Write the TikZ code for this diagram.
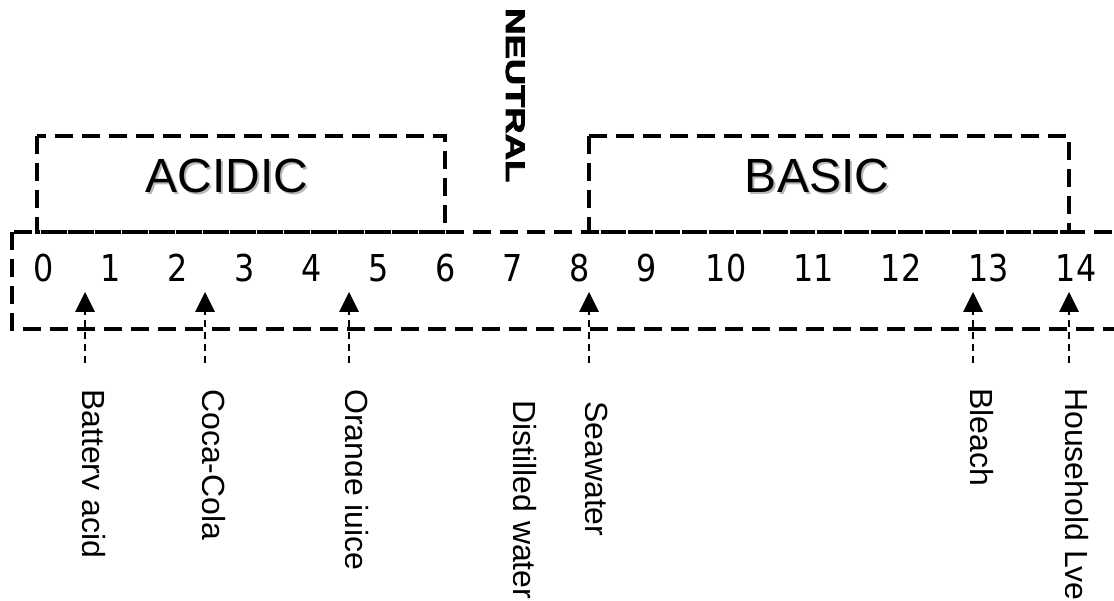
\documentclass[tikz,border=0pt]{standalone}
\usepackage{graphicx}
\usepackage{fontspec}
\setmainfont{Liberation Sans}
\newfontfamily\digitfont{DejaVu Sans}[FakeStretch=0.86]
\newfontfamily\heavyfont{Liberation Sans Bold}[FakeBold=2.5]
\usetikzlibrary{arrows.meta}

\begin{document}
\begin{tikzpicture}[
  x=1pt, y=-1pt,
  zone/.style={draw, line width=3.5pt, dash pattern=on 18pt off 9pt},
  zonename/.style={font=\fontsize{48}{52}\selectfont, inner sep=0pt, anchor=base},
  zoneshade/.style={zonename, text=black!28},
  phnum/.style={font=\digitfont\fontsize{37}{40}\selectfont, inner sep=0pt, anchor=base},
  item/.style={font=\fontsize{32}{36}\selectfont, rotate=-90, inner sep=0pt, anchor=base west},
  pointer/.style={line width=1.8pt, dash pattern=on 7pt off 5pt,
    -{Triangle[width=20pt,length=20pt,line width=0pt]}}
]
\useasboundingbox (0,0) rectangle (1114,601);
\clip (0,0) rectangle (1114,601);

% Ranges
\draw[zone] (12,232) rectangle (1140,329);
\draw[zone] (37,136) rectangle (445,232);
\draw[zone] (589,136) rectangle (1069,232);

\node[zoneshade] at (229,195) {ACIDIC};
\node[zonename] (acidic) at (227,193) {ACIDIC};
\node[zoneshade] at (819,195) {BASIC};
\node[zonename] (basic) at (817,193) {BASIC};

\node[rotate=-90, inner sep=0pt, anchor=base west] (neutral) at (506,8)
  {\heavyfont\fontsize{27}{30}\selectfont\scalebox{1.35}[1]{NEUTRAL}};

% pH scale
\foreach \v in {0,...,9}
  \node[phnum] (ph\v) at ({44+67*\v},282) {\v};
\foreach \v in {10,...,14}
  \node[phnum] (ph\v) at ({726+87.5*(\v-10)},282) {\v};

% Pointers
\coordinate (battery-s) at (85,363);  \coordinate (battery-t) at (85,292);
\coordinate (cola-s) at (205,363);    \coordinate (cola-t) at (205,292);
\coordinate (orange-s) at (349,363);  \coordinate (orange-t) at (349,292);
\coordinate (sea-s) at (589,363);     \coordinate (sea-t) at (589,292);
\coordinate (bleach-s) at (973,363);  \coordinate (bleach-t) at (973,292);
\coordinate (lye-s) at (1069,363);    \coordinate (lye-t) at (1069,292);

\draw[pointer] (battery-s) -- (battery-t);
\draw[pointer] (cola-s) -- (cola-t);
\draw[pointer] (orange-s) -- (orange-t);
\draw[pointer] (sea-s) -- (sea-t);
\draw[pointer] (bleach-s) -- (bleach-t);
\draw[pointer] (lye-s) -- (lye-t);

% Substances
\begin{scope}
\clip (82,370) rectangle (140,601) (202,370) rectangle (260,601)
      (345,370) rectangle (400,601) (513,370) rectangle (570,601)
      (585,370) rectangle (640,601) (970,370) rectangle (1020,601)
      (1065,370) rectangle (1114,601);
\node[item] (battery) at (82,389) {Battery acid};
\node[item] (cola) at (202,389) {Coca-Cola};
\node[item] (orange) at (345,389) {Orange juice};
\node[item] (distilled) at (513,400) {Distilled water};
\node[item] (sea) at (585,401) {Seawater};
\node[item] (bleach) at (970,388) {Bleach};
\node[item] (lye) at (1065,388) {Household Lye};
\end{scope}

\end{tikzpicture}
\end{document}
